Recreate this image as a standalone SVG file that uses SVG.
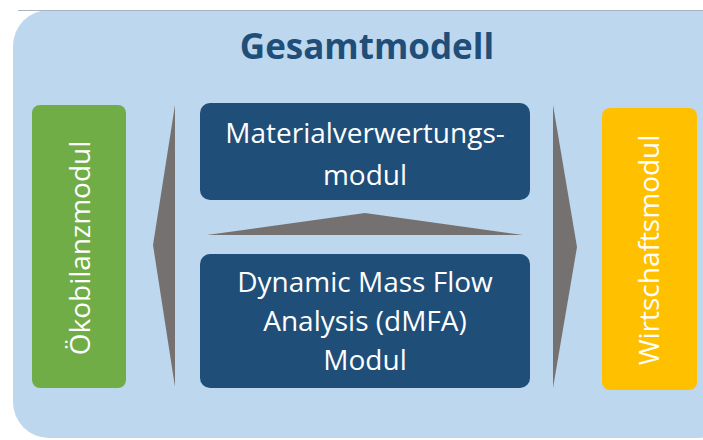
<svg xmlns="http://www.w3.org/2000/svg" width="703" height="440" viewBox="0 0 703 440">
  <style>
    .lbl { font-family: "Open Sans", "Liberation Sans", sans-serif; fill: #FFFFFF; text-anchor: middle; font-size: 28px; }
    .title { font-family: "Open Sans", "Liberation Sans", sans-serif; font-weight: bold; fill: #1F4E79; text-anchor: middle; font-size: 35px; }
    .arrow { fill: #767171; }
  </style>
  <rect width="703" height="440" fill="#FFFFFF"/>
  <!-- outer frame -->
  <g id="gesamtmodell">
    <rect x="13" y="10" width="720" height="428" rx="36" ry="36" fill="#BDD7EE"/>
    <line x1="18" y1="10.5" x2="703" y2="10.5" stroke="#A9B4BE" stroke-width="1"/>
    <text class="title" x="367" y="59">Gesamtmodell</text>
  </g>
  <!-- side and centre arrows -->
  <g id="connectors">
    <polygon class="arrow" points="175,105 153,245 175,387"/>
    <polygon class="arrow" points="553,105 577,247 553,388"/>
    <polygon class="arrow" points="207,235 365,213 523,235"/>
  </g>
  <g id="oekobilanz">
    <rect x="32" y="105" width="94" height="283" rx="8" fill="#70AD47"/>
    <text class="lbl" transform="translate(80,248) rotate(-90)" dy="0.35em">Ökobilanzmodul</text>
  </g>
  <g id="materialverwertung">
    <rect x="200" y="103" width="330" height="97" rx="10" fill="#1F4E79"/>
    <text class="lbl" x="365" y="143">Materialverwertungs-</text>
    <text class="lbl" x="365" y="185">modul</text>
  </g>
  <g id="dmfa">
    <rect x="200" y="254" width="330" height="134" rx="10" fill="#1F4E79"/>
    <text class="lbl" x="365" y="292">Dynamic Mass Flow</text>
    <text class="lbl" x="365" y="331">Analysis (dMFA)</text>
    <text class="lbl" x="365" y="370">Modul</text>
  </g>
  <g id="wirtschaft">
    <rect x="602" y="108" width="95" height="282" rx="8" fill="#FFC000"/>
    <text class="lbl" transform="translate(649,250) rotate(-90)" dy="0.35em">Wirtschaftsmodul</text>
  </g>
</svg>
